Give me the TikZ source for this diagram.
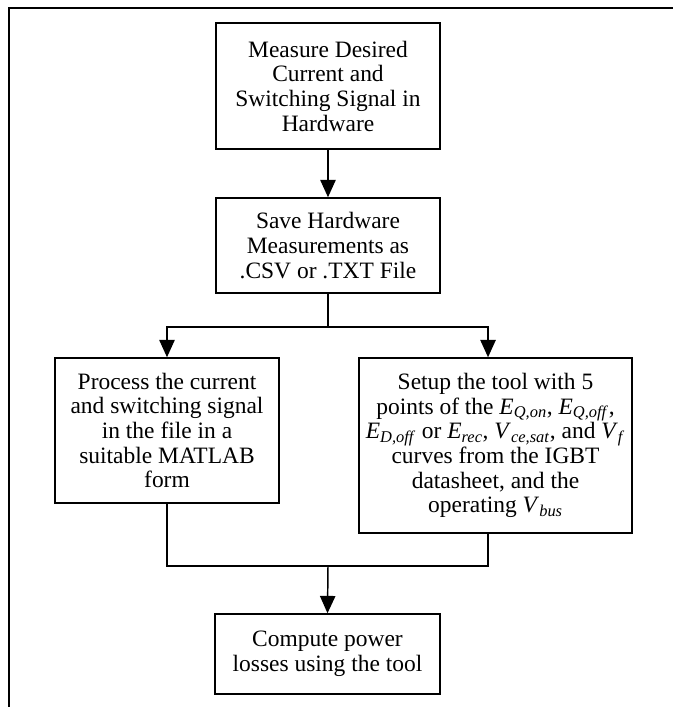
\documentclass[tikz,border=0pt]{standalone}
\usepackage{fontspec}
\setmainfont{Liberation Serif}
\usetikzlibrary{arrows.meta}
\newcommand{\isub}[2]{\textit{#1}\textsubscript{\textit{#2}}}

\begin{document}
\begin{tikzpicture}[x=0.75pt, y=-0.75pt,
                    >={Triangle[length=13pt,width=11.5pt]},
                    box/.style={draw, line width=1.1pt, align=center, inner sep=0pt,
                                font=\fontsize{17.6}{18.5}\selectfont},
                    flow/.style={draw, line width=1.1pt}]
  \useasboundingbox (0,0) rectangle (673,707);
  % frame
  \draw[line width=1.6pt] (673,7.7) -- (8.7,7.7) -- (8.7,707);
  \node[box, minimum width=168pt, minimum height=94.5pt] (measure) at (328,86)
    {Measure Desired\\Current and\\Switching Signal in\\Hardware};
  \node[box, minimum width=168pt, minimum height=71.25pt] (save) at (328,245.5)
    {Save Hardware\\Measurements as\\.CSV or .TXT File};
  \node[box, minimum width=168pt, minimum height=108.75pt] (process) at (167,430.5)
    {Process the current\\and switching signal\\in the file in a\\suitable MATLAB\\form};
  \node[box, minimum width=204.75pt, minimum height=131.25pt] (setup) at (495.5,445.5)
    {Setup the tool with 5\\points of the \isub{E}{Q,on}, \isub{E}{Q,off},\\
     \isub{E}{D,off} or \isub{E}{rec}, \isub{V}{ce,sat}, and \isub{V}{f}\\
     curves from the IGBT\\datasheet, and the\\operating \isub{V}{bus}};
  \node[box, minimum width=168.75pt, minimum height=60pt] (compute) at (327.5,654)
    {Compute power\\losses using the tool};
  \coordinate (split) at (328,327);
  \coordinate (merge) at (328,566);
  \draw[flow, ->] (measure) -- (save);
  \draw[flow, ->] (save.south) -- (split) -| (process.north);
  \draw[flow, ->] (split) -| ([xshift=-5.6pt]setup.north);
  \draw[flow] (process.south) |- (merge);
  \draw[flow] ([xshift=-5.6pt]setup.south) |- (merge);
  \draw[flow, ->] (merge) -- (compute.north);
\end{tikzpicture}
\end{document}
